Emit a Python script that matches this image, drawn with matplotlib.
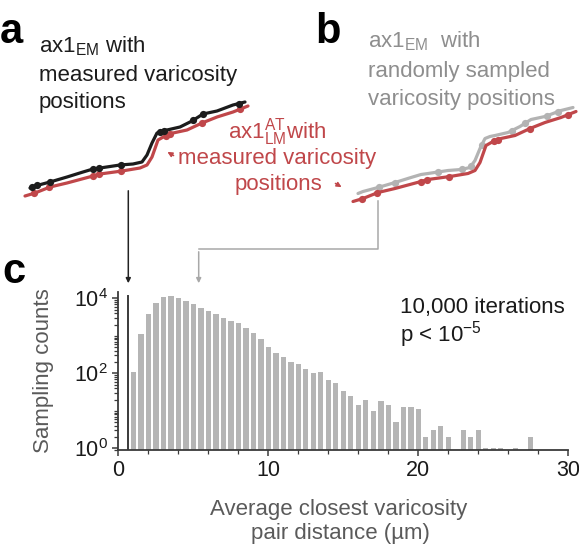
import numpy as np
import matplotlib.pyplot as plt
from matplotlib.ticker import FixedLocator, LogLocator, MultipleLocator, NullFormatter, LogFormatterMathtext

plt.rcParams['font.family'] = ['Liberation Sans', 'DejaVu Sans']
plt.rcParams['mathtext.fontset'] = 'custom'
plt.rcParams['mathtext.rm'] = 'Liberation Sans'
plt.rcParams['mathtext.it'] = 'Liberation Sans:italic'
plt.rcParams['mathtext.bf'] = 'Liberation Sans:bold'

# histogram of average closest varicosity pair distance (bins of 0.5 um)
bin_centers = np.arange(1.0, 27.6, 0.5)
counts = np.array([107, 1150, 3900, 7700, 10800, 11800, 10200, 8700, 6900, 5600,
                   4500, 3700, 2900, 2450, 2200, 1600, 1180, 820, 515, 340,
                   270, 200, 178, 128, 102, 108, 68, 54, 33, 25,
                   14, 20, 10, 18, 14, 5, 13, 13, 11, 2,
                   3, 4, 2, 0, 3, 2, 3, 1, 1, 1,
                   0, 1, 0, 2])
measured_distance = 0.67
random_distance = 5.36

# schematic axon traces (pixel coords of panel a)
em_x = [30, 35, 50, 67, 83, 93, 100, 120, 133, 142, 147, 152, 157, 162, 167, 180, 192, 203, 217, 233, 245]
em_y = [188, 186, 182, 177, 172, 169, 168, 165, 164, 162, 155, 143, 133, 131, 130, 127, 121, 114, 111, 105, 102]
lm_x = [25, 35, 50, 67, 93, 100, 122, 140, 147, 152, 158, 165, 173, 187, 202, 217, 233, 248]
lm_y = [196, 193, 187, 183, 176, 174, 171, 168, 165, 157, 140, 136, 133, 130, 123, 117, 112, 106]
em_measured = [32, 37, 50, 93, 99, 121, 160, 164, 193, 203, 239]
lm_measured = [34, 49, 93, 99, 121, 166, 170, 202, 240]
em_random = [51, 67, 110, 134, 143, 154, 184, 197, 219, 230]
shift_b = (328, 5.5)

red = '#c0474a'
grey = '#b3b3b3'
dark = '#1c1c1c'

fig = plt.figure(figsize=(5.79, 5.48), dpi=100)

# histogram panel
ax = fig.add_axes([118.3 / 579, (548 - 450) / 548, 450 / 579, 158.3 / 548])
keep = counts > 0
ax.bar(bin_centers[keep], counts[keep], width=0.36, color='#b5b5b5', zorder=2)
ax.set_yscale('log')
ax.set_ylim(0.90, 15000)
ax.set_xlim(0, 30)
ax.axvline(measured_distance, ymin=0, ymax=0.975, color='#3a3a3a', lw=1.4, zorder=3)
ax.yaxis.set_major_locator(FixedLocator([1, 100, 10000]))
ax.yaxis.set_major_formatter(LogFormatterMathtext())
ax.yaxis.set_minor_locator(LogLocator(base=10, subs=np.arange(1, 10), numticks=20))
ax.yaxis.set_minor_formatter(NullFormatter())
ax.xaxis.set_major_locator(MultipleLocator(10))
ax.xaxis.set_minor_locator(MultipleLocator(2))
for s in ['top', 'right']:
    ax.spines[s].set_visible(False)
for s in ['left', 'bottom']:
    ax.spines[s].set_color('#3a3a3a')
    ax.spines[s].set_linewidth(1.3)
ax.tick_params(which='major', length=4.5, width=1.1, color='#3a3a3a', labelsize=15.5,
               labelcolor='#1a1a1a', pad=3)
ax.tick_params(which='minor', length=2.8, width=0.9, color='#3a3a3a')
ax.patch.set_alpha(0)

# overlay for schematics and text, in pixel coordinates
ov = fig.add_axes([0, 0, 1, 1], zorder=5)
ov.set_xlim(0, 579)
ov.set_ylim(548, 0)
ov.axis('off')


def draw_trace(xs, ys, dots, color, dx=0, dy=0):
    xs = np.array(xs) + dx
    ys = np.array(ys) + dy
    ov.plot(xs, ys, color=color, lw=2.3, solid_capstyle='round')
    dx_ = np.array(dots) + dx
    ov.plot(dx_, np.interp(dx_, xs, ys), 'o', color=color, ms=5.2, mec='none')


# panel a
draw_trace(lm_x, lm_y, lm_measured, red)
draw_trace(em_x, em_y, em_measured, dark)
# panel b
draw_trace(em_x, em_y, em_random, grey, *shift_b)
draw_trace(lm_x, lm_y, lm_measured, red, *shift_b)

# panel letters
ov.text(0, 43, 'a', fontsize=30, fontweight='bold', va='baseline', color='black')
ov.text(315, 43, 'b', fontsize=30, fontweight='bold', va='baseline', color='black')
ov.text(2, 283, 'c', fontsize=30, fontweight='bold', va='baseline', color='black')

# panel a labels
txt = dict(fontsize=16, va='baseline')
ov.text(39, 52.7, r'ax1$_{\mathrm{EM}}$ with', color=dark, **txt)
ov.text(39, 81, 'measured varicosity', color=dark, **txt)
ov.text(39, 108, 'positions', color=dark, **txt)

ov.text(277, 138, r'ax1$_{\mathrm{LM}}^{\mathrm{AT}}$with', color=red, ha='center', **txt)
ov.text(277, 164, 'measured varicosity', color=red, ha='center', **txt)
ov.text(278, 190, 'positions', color=red, ha='center', **txt)
ov.annotate('', xy=(165, 150.5), xytext=(176, 157),
            arrowprops=dict(arrowstyle='-|>', color=red, lw=1.1, mutation_scale=7))
ov.annotate('', xy=(344, 188.5), xytext=(333, 182),
            arrowprops=dict(arrowstyle='-|>', color=red, lw=1.1, mutation_scale=7))

# panel b labels
gtxt = '#8e8e8e'
ov.text(368, 47.7, r'ax1$_{\mathrm{EM}}$  with', color=gtxt, **txt)
ov.text(368, 76.7, 'randomly sampled', color=gtxt, **txt)
ov.text(368, 105, 'varicosity positions', color=gtxt, **txt)

# arrows from panels into the histogram
ov.annotate('', xy=(128.3, 286), xytext=(128.3, 188),
            arrowprops=dict(arrowstyle='-|>', color='#222222', lw=1.1, mutation_scale=7))
ov.plot([377.7, 377.7, 198.7], [201, 249, 249], color='#a8a8a8', lw=1.1)
ov.annotate('', xy=(198.7, 286), xytext=(198.7, 249),
            arrowprops=dict(arrowstyle='-|>', color='#a8a8a8', lw=1.1, mutation_scale=7))

# histogram annotations
ov.text(400, 313, '10,000 iterations', color='#1a1a1a', **txt)
ov.text(400, 341.7, r'p < 10$^{-5}$', color='#1a1a1a', **txt)

lab = '#5a5a5a'
ov.text(339, 515, 'Average closest varicosity', color=lab, ha='center', **txt)
ov.text(340, 539, u'pair distance (\u00b5m)', color=lab, ha='center', **txt)
ov.text(44, 371, 'Sampling counts', color=lab, rotation=90, ha='center', va='center', fontsize=16)

fig.savefig('out.png', dpi=100)
